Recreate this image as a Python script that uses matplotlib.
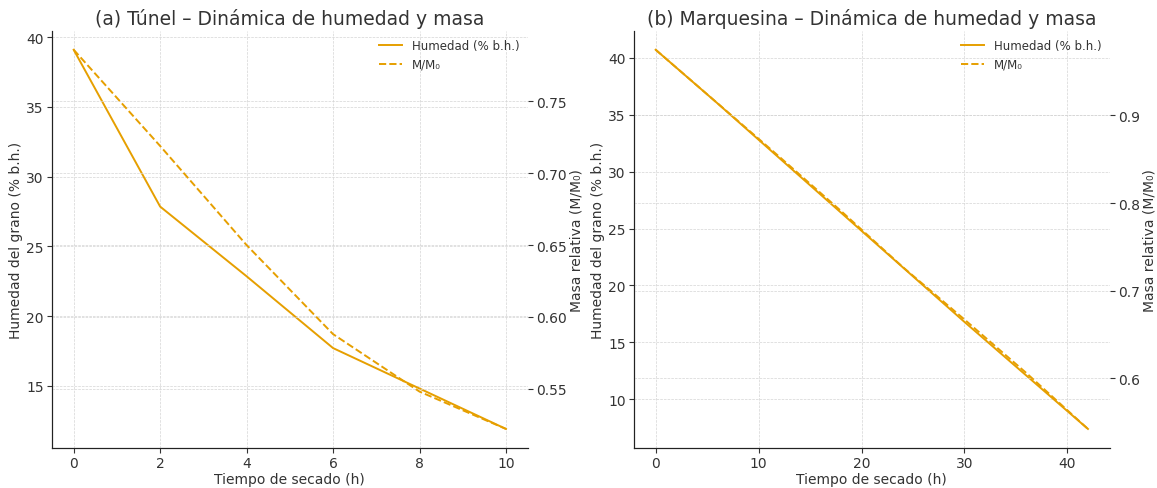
import matplotlib
matplotlib.use("Agg")
import matplotlib.pyplot as plt

# Panel (a) Túnel
t_a = [0, 2, 4, 6, 8, 10]
hum_a = [39.1, 27.85, 22.85, 17.7, 14.8, 11.9]
mass_a = [0.786, 0.719, 0.650, 0.588, 0.548, 0.522]

# Panel (b) Marquesina
t_b = [0, 6, 12, 18, 24, 30, 36, 42]
hum_b = [40.7, 36.0, 31.2, 26.4, 21.6, 16.8, 12.1, 7.4]
mass_b = [0.975, 0.914, 0.853, 0.791, 0.727, 0.667, 0.606, 0.542]

titles = ["(a) Túnel – Dinámica de humedad y masa",
          "(b) Marquesina – Dinámica de humedad y masa"]
xlabel = "Tiempo de secado (h)"
ylabel_left = "Humedad del grano (% b.h.)"
ylabel_right = "Masa relativa (M/M₀)"
lab_h = "Humedad (% b.h.)"
lab_m = "M/M₀"

color = "#E69F00"
txt = "#333333"
plt.rcParams['font.family'] = ['DejaVu Sans']

fig = plt.figure(figsize=(11.57, 4.89), dpi=100)
positions = [[0.045, 0.082, 0.411, 0.853], [0.548, 0.082, 0.411, 0.853]]
data = [(t_a, hum_a, mass_a), (t_b, hum_b, mass_b)]

for pos, (t, h, m), title in zip(positions, data, titles):
    ax = fig.add_axes(pos)
    ax2 = ax.twinx()
    l1, = ax.plot(t, h, color=color, lw=1.4, label=lab_h)
    l2, = ax2.plot(t, m, color=color, lw=1.4, ls='--', label=lab_m)
    for a in (ax, ax2):
        a.spines['top'].set_visible(False)
        a.spines['right'].set_visible(False)
        a.grid(True, ls='--', lw=0.5, color='#d4d4d4')
        a.tick_params(labelsize=10, colors=txt, length=3.5, pad=2.5)
        for s in a.spines.values():
            s.set_color('#222222')
    ax.set_axisbelow(True)
    ax.set_title(title, fontsize=13.5, color=txt, pad=5)
    ax.set_xlabel(xlabel, fontsize=10, color=txt, labelpad=1)
    ax.set_ylabel(ylabel_left, fontsize=10, color=txt, labelpad=2)
    ax2.set_ylabel(ylabel_right, fontsize=10, color=txt, labelpad=2)
    ax2.legend([l1, l2], [lab_h, lab_m], loc='upper right', frameon=False,
               fontsize=8.5, labelcolor=txt, borderaxespad=0.3)

fig.savefig("out.png", dpi=100)
